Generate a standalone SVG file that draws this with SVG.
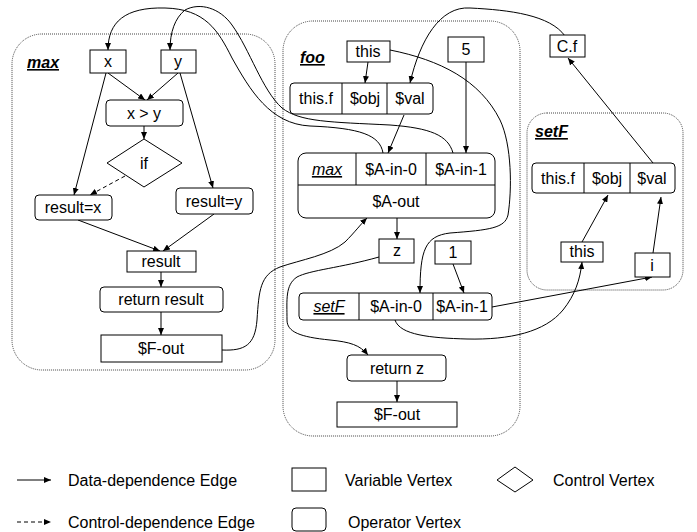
<svg xmlns="http://www.w3.org/2000/svg" width="697" height="532" viewBox="0 0 697 532">
<defs>
<marker id="ah" markerUnits="userSpaceOnUse" markerWidth="8" markerHeight="6" refX="7" refY="3" orient="auto">
<path d="M0,0 L7,3 L0,6 z" fill="#000"/>
</marker>
<style>
.cont{fill:none;stroke:#444;stroke-width:1;stroke-dasharray:1 1}
.box{fill:#fff;stroke:#000;stroke-width:1}
.t{font-family:"Liberation Sans",Arial,sans-serif;font-size:16px;fill:#000;text-anchor:middle}
.lbl{font-family:"Liberation Sans",Arial,sans-serif;font-size:16px;font-weight:bold;font-style:italic;text-decoration:underline;fill:#000}
.it{font-style:italic;text-decoration:underline}
.e{fill:none;stroke:#000;stroke-width:1;marker-end:url(#ah)}
.d{stroke-dasharray:4 3}
.lg{font-family:"Liberation Sans",Arial,sans-serif;font-size:16px;fill:#000}
</style>
</defs>
<rect width="697" height="532" fill="#fff"/>

<g id="containers">
<rect class="cont" x="12" y="34" width="263" height="336" rx="30"/>
<rect class="cont" x="283" y="21" width="237" height="415" rx="30"/>
<rect class="cont" x="527" y="113" width="156" height="177" rx="20"/>
<text class="lbl" x="27" y="68">max</text>
<text class="lbl" x="300" y="63">foo</text>
<text class="lbl" x="535" y="137">setF</text>
</g>

<g id="connectors">
<path class="e" d="M108,73 L145,100"/>
<path class="e" d="M178,73 L147,100"/>
<path class="e" d="M144,126 L144,139"/>
<path class="e" d="M106,73 L74,195"/>
<path class="e d" d="M125,176 L90,195"/>
<path class="e" d="M180,73 L213,188"/>
<path class="e" d="M78,220 L160,251"/>
<path class="e" d="M214,214 L163,251"/>
<path class="e" d="M161,272 L161,287"/>
<path class="e" d="M161,312 L161,335"/>
<path class="e" d="M222,350 C245,351 255,345 257,320 C259,290 260,275 280,267 C300,260 330,255 345,242 C355,232 360,225 367,218"/>
<path class="e" d="M383,153 C380,135 360,128 310,126 C270,124 250,90 232,58 C218,30 205,9 165,8 C125,7 108,22 108,50"/>
<path class="e" d="M453,153 C448,135 430,128 390,125 C330,122 300,122 282,108 C262,90 250,50 232,25 C220,8 200,2 185,10 C175,18 170,32 170,50"/>
<path class="e" d="M368,62 L365,83"/>
<path class="e" d="M466,62 L466,153"/>
<path class="e" d="M404,115 L388,153"/>
<path class="e" d="M397,218 L397,239"/>
<path class="e" d="M453,264 L464,293"/>
<path class="e" d="M379,257 C340,268 310,270 297,277 C285,285 287,300 287,320 C287,332 300,337 330,340 C350,342 360,345 368,355"/>
<path class="e" d="M397,381 L397,402"/>
<path class="e" d="M390,50 C440,60 480,80 500,120 C512,145 512,190 508,215 C505,228 490,230 450,233 C425,236 420,250 420,293"/>
<path class="e" d="M565,36 C550,15 510,10 470,8 C440,6 420,40 410,83"/>
<path class="e" d="M492,307 L652,277"/>
<path class="e" d="M395,320 C400,335 430,338 467,339 C510,340 545,332 563,310 C575,295 580,280 582,262"/>
<path class="e" d="M653,163 L568,58"/>
<path class="e" d="M582,242 L608,195"/>
<path class="e" d="M653,253 L661,197"/>
</g>

<g id="max-x"><rect class="box" x="90" y="50" width="36" height="23"/><text class="t" x="108" y="67">x</text></g>
<g id="max-y"><rect class="box" x="161" y="50" width="35" height="23"/><text class="t" x="178" y="67">y</text></g>
<g id="max-cmp"><rect class="box" x="106" y="100" width="77" height="26" rx="4"/><text class="t" x="144" y="119">x &gt; y</text></g>
<g id="max-if"><polygon class="box" points="144,139 182,163 144,187 107,163"/><text class="t" x="144" y="169">if</text></g>
<g id="max-resx"><rect class="box" x="35" y="195" width="77" height="25" rx="4"/><text class="t" x="73" y="213">result=x</text></g>
<g id="max-resy"><rect class="box" x="176" y="188" width="77" height="26" rx="4"/><text class="t" x="214" y="207">result=y</text></g>
<g id="max-result"><rect class="box" x="127" y="251" width="69" height="21"/><text class="t" x="161" y="267">result</text></g>
<g id="max-return"><rect class="box" x="100" y="287" width="123" height="25" rx="4"/><text class="t" x="161" y="305">return result</text></g>
<g id="max-fout"><rect class="box" x="101" y="335" width="121" height="27"/><text class="t" x="161" y="354">$F-out</text></g>

<g id="foo-this"><rect class="box" x="347" y="41" width="43" height="21"/><text class="t" x="368" y="57">this</text></g>
<g id="foo-5"><rect class="box" x="448" y="37" width="36" height="25"/><text class="t" x="466" y="55">5</text></g>
<g id="foo-store"><rect class="box" x="290" y="83" width="143" height="31" rx="4"/><line x1="342" y1="83" x2="342" y2="114" stroke="#000"/><line x1="387" y1="83" x2="387" y2="114" stroke="#000"/><text class="t" x="316" y="104">this.f</text><text class="t" x="365" y="104">$obj</text><text class="t" x="410" y="104">$val</text></g>
<g id="foo-callmax"><rect class="box" x="298" y="153" width="197" height="65" rx="8"/><line x1="298" y1="185" x2="495" y2="185" stroke="#000"/><line x1="356" y1="153" x2="356" y2="185" stroke="#000"/><line x1="426" y1="153" x2="426" y2="185" stroke="#000"/><text class="t it" x="327" y="175">max</text><text class="t" x="391" y="175">$A-in-0</text><text class="t" x="461" y="175">$A-in-1</text><text class="t" x="396" y="207">$A-out</text></g>
<g id="foo-z"><rect class="box" x="379" y="239" width="35" height="24"/><text class="t" x="397" y="256">z</text></g>
<g id="foo-1"><rect class="box" x="435" y="241" width="36" height="23"/><text class="t" x="453" y="258">1</text></g>
<g id="foo-callsetf"><rect class="box" x="299" y="293" width="193" height="27" rx="4"/><line x1="359" y1="293" x2="359" y2="320" stroke="#000"/><line x1="433" y1="293" x2="433" y2="320" stroke="#000"/><text class="t it" x="329" y="312">setF</text><text class="t" x="396" y="312">$A-in-0</text><text class="t" x="462" y="312">$A-in-1</text></g>
<g id="foo-return"><rect class="box" x="347" y="355" width="99" height="26" rx="4"/><text class="t" x="397" y="374">return z</text></g>
<g id="foo-fout"><rect class="box" x="337" y="402" width="120" height="25"/><text class="t" x="397" y="420">$F-out</text></g>

<g id="cf"><rect class="box" x="550" y="35" width="35" height="22"/><text class="t" x="567" y="52">C.f</text></g>
<g id="setf-store"><rect class="box" x="532" y="163" width="143" height="30" rx="4"/><line x1="584" y1="163" x2="584" y2="193" stroke="#000"/><line x1="630" y1="163" x2="630" y2="193" stroke="#000"/><text class="t" x="558" y="184">this.f</text><text class="t" x="607" y="184">$obj</text><text class="t" x="652" y="184">$val</text></g>
<g id="setf-this"><rect class="box" x="561" y="242" width="42" height="20"/><text class="t" x="582" y="257">this</text></g>
<g id="setf-i"><rect class="box" x="635" y="253" width="35" height="24"/><text class="t" x="652" y="271">i</text></g>

<g id="legend">
<path class="e" d="M17,480 L51,480"/>
<text class="lg" x="68" y="486">Data-dependence Edge</text>
<path class="e d" d="M17,522 L51,522"/>
<text class="lg" x="68" y="528">Control-dependence Edge</text>
<rect class="box" x="292" y="468" width="34" height="23"/>
<text class="lg" x="345" y="486">Variable Vertex</text>
<rect class="box" x="292" y="508" width="34" height="23" rx="4"/>
<text class="lg" x="348" y="528">Operator Vertex</text>
<polygon class="box" points="497,480 515,467 533,480 515,492"/>
<text class="lg" x="553" y="486">Control Vertex</text>
</g>
</svg>
